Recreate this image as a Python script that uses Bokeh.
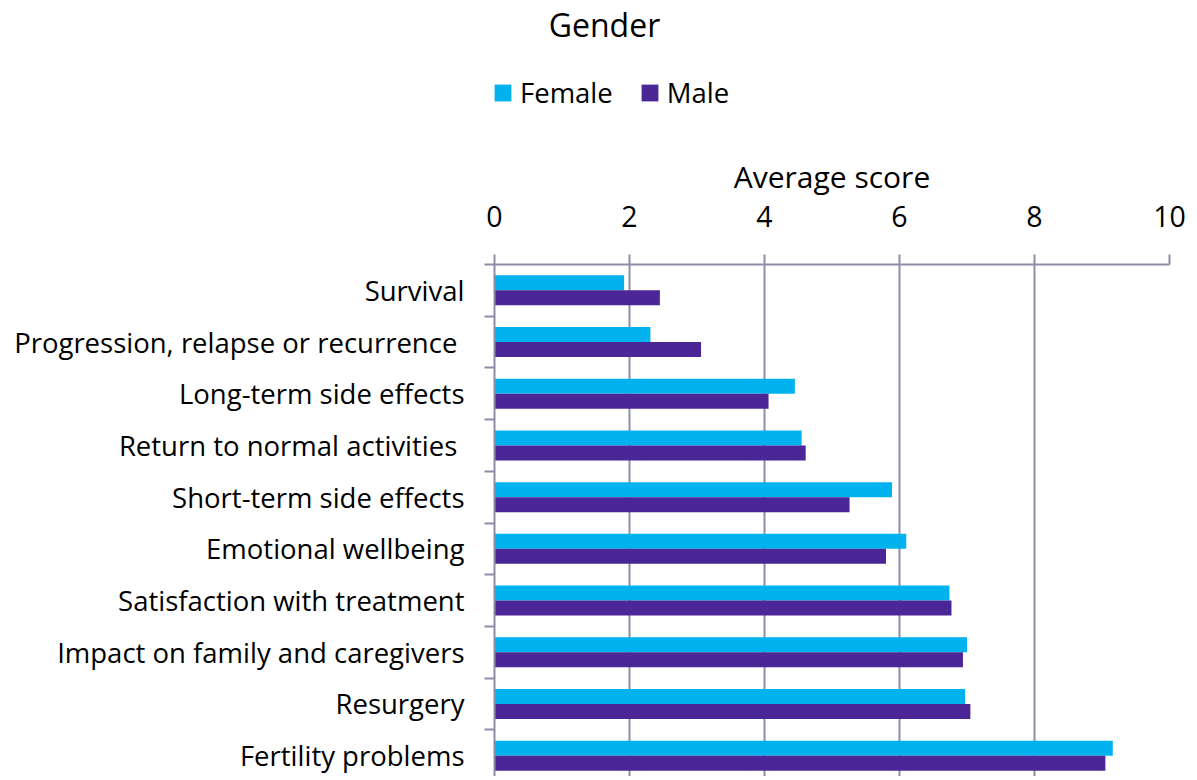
from bokeh.plotting import figure
from bokeh.layouts import column
from bokeh.models import Range1d, FixedTicker, Legend, LegendItem, ColumnDataSource, Label
from bokeh.embed import file_html
from bokeh.resources import INLINE

categories = ["Survival", "Progression, relapse or recurrence ", "Long-term side effects",
              "Return to normal activities ", "Short-term side effects", "Emotional wellbeing",
              "Satisfaction with treatment", "Impact on family and caregivers", "Resurgery",
              "Fertility problems"]
female = [1.92, 2.31, 4.45, 4.55, 5.89, 6.10, 6.74, 7.00, 6.97, 9.16]
male = [2.45, 3.06, 4.06, 4.61, 5.26, 5.80, 6.77, 6.94, 7.05, 9.05]
x_ticks = [0, 2, 4, 6, 8, 10]
series_names = ["Female", "Male"]
series_colors = ["#00B3EE", "#4B2697"]
title_text = "Gender"
x_title = "Average score"

FONT = "Open Sans"
GRAY = "#8F8CA8"
n = len(categories)
bar_h = 0.29
idx = list(range(n))
W = 1188
HEAD_H = 130
MAIN_H = 646
TOP = 134
BAND_PX = 51.7

src = ColumnDataSource(dict(
    y_f=[i - bar_h / 2 for i in idx],
    y_m=[i + bar_h / 2 for i in idx],
    female=female,
    male=male,
))

# ---------------- header: title + legend (frame aligned with the chart frame) ----------------
head = figure(width=W, height=HEAD_H, output_backend="svg", toolbar_location=None,
              x_range=Range1d(0, 10), y_range=Range1d(1000, 1001),
              min_border_left=0, min_border_right=0, min_border_top=0, min_border_bottom=0)
head.axis.visible = False
head.grid.visible = False
head.outline_line_color = None
head.title.visible = False
# legend swatches (bars lie outside the header's visible range)
lf = head.hbar(y="y_f", right="female", left=0, height=bar_h, source=src,
               fill_color=series_colors[0], line_color=None)
lm = head.hbar(y="y_m", right="male", left=0, height=bar_h, source=src,
               fill_color=series_colors[1], line_color=None)
legend = Legend(items=[LegendItem(label=series_names[0], renderers=[lf]),
                       LegendItem(label=series_names[1], renderers=[lm])],
                orientation="horizontal", location=(-2, 19),
                glyph_width=21, glyph_height=21, label_standoff=7, spacing=26,
                label_text_font=FONT, label_text_font_size="27.5px",
                label_text_color="#000000",
                border_line_color=None, background_fill_alpha=0,
                padding=0, margin=0)
head.add_layout(legend, "center")
head.add_layout(Label(x=110, y=HEAD_H - 24, x_units="screen", y_units="screen",
                      text=title_text, text_font=FONT, text_font_size="32px",
                      text_align="center", text_baseline="middle", text_color="#000000"))

# ---------------- main bar chart ----------------
frame_h = MAIN_H - TOP
p = figure(width=W, height=MAIN_H, output_backend="svg", toolbar_location=None,
           x_range=Range1d(0, 10), y_range=Range1d(-0.5 + frame_h / BAND_PX, -0.5),
           x_axis_location="above", min_border_right=19, min_border_left=494,
           min_border_top=TOP, min_border_bottom=0)
p.outline_line_color = None
p.title.visible = False

rf = p.hbar(y="y_f", right="female", left=0, height=bar_h, source=src,
            fill_color=series_colors[0], line_color=None)
rm = p.hbar(y="y_m", right="male", left=0, height=bar_h, source=src,
            fill_color=series_colors[1], line_color=None)

p.yaxis.ticker = FixedTicker(ticks=idx, minor_ticks=[i - 0.5 for i in range(n + 1)])
p.yaxis.major_label_overrides = {i: c for i, c in enumerate(categories)}
p.yaxis.major_tick_out = 0
p.yaxis.major_tick_in = 0
p.yaxis.minor_tick_out = 10
p.yaxis.minor_tick_in = 0
p.yaxis.minor_tick_line_color = GRAY
p.yaxis.minor_tick_line_width = 2
p.yaxis.axis_line_color = GRAY
p.yaxis.axis_line_width = 2
p.yaxis.major_label_text_font = FONT
p.yaxis.major_label_text_font_size = "27.5px"
p.yaxis.major_label_text_color = "#000000"
p.yaxis.major_label_standoff = 20

p.xaxis.ticker = FixedTicker(ticks=x_ticks)
p.xaxis.axis_label = x_title
p.xaxis.axis_label_text_font = FONT
p.xaxis.axis_label_text_font_size = "30px"
p.xaxis.axis_label_text_font_style = "normal"
p.xaxis.axis_label_text_color = "#000000"
p.xaxis.axis_label_standoff = 6
p.xaxis.major_label_text_font = FONT
p.xaxis.major_label_text_font_size = "28.5px"
p.xaxis.major_label_text_color = "#000000"
p.xaxis.major_label_standoff = 28
p.xaxis.major_tick_out = 10
p.xaxis.major_tick_in = 0
p.xaxis.major_tick_line_color = GRAY
p.xaxis.major_tick_line_width = 2
p.xaxis.minor_tick_line_color = None
p.xaxis.axis_line_color = GRAY
p.xaxis.axis_line_width = 2

p.xgrid.grid_line_color = GRAY
p.xgrid.grid_line_width = 2
p.ygrid.visible = False

layout = column(head, p, spacing=0)
open("out.html", "w").write(file_html(layout, INLINE))
